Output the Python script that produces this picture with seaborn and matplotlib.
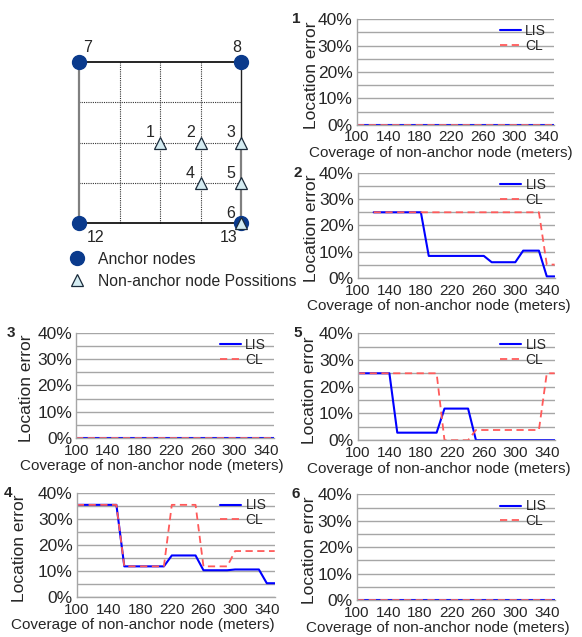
import numpy as np
import pandas as pd
import matplotlib
matplotlib.use("Agg")
import matplotlib.pyplot as plt
from matplotlib.lines import Line2D
from matplotlib.ticker import FuncFormatter, MultipleLocator
import seaborn as sns

sns.set_style("white")
plt.rcParams["font.family"] = ["Liberation Sans", "DejaVu Sans"]

# coverage of the non-anchor node (meters)
coverage = [100, 110, 120, 130, 140, 150, 160, 170, 180, 190, 200, 210, 220,
            230, 240, 250, 260, 270, 280, 290, 300, 310, 320, 330, 340, 350]
x_ticks = [100, 140, 180, 220, 260, 300, 340]
y_ticks = [0, 10, 20, 30, 40]

nan = np.nan
zeros = [0] * 26

lis_1 = zeros
cl_1 = zeros

lis_2 = [nan, nan, 25, 25, 25, 25, 25, 25, 25, 8.4, 8.4, 8.4, 8.4,
         8.4, 8.4, 8.4, 8.4, 6.0, 6.0, 6.0, 6.0, 10.4, 10.4, 10.4, 0.6, 0.6]
cl_2 = [nan, nan, 25, 25, 25, 25, 25, 25, 25, 25, 25, 25, 25,
        25, 25, 25, 25, 25, 25, 25, 25, 25, 25, 25, 5.1, 5.1]

lis_3 = zeros
cl_3 = zeros

lis_4 = [35.5, 35.5, 35.5, 35.5, 35.5, 35.5, 11.8, 11.8, 11.8, 11.8, 11.8, 11.8, 16.0,
         16.0, 16.0, 16.0, 10.3, 10.3, 10.3, 10.3, 10.6, 10.6, 10.6, 10.6, 5.3, 5.3]
cl_4 = [35.5, 35.5, 35.5, 35.5, 35.5, 35.5, 11.8, 11.8, 11.8, 11.8, 11.8, 11.8, 35.5,
        35.5, 35.5, 35.5, 11.8, 11.8, 11.8, 11.8, 17.7, 17.7, 17.7, 17.7, 17.7, 17.7]

lis_5 = [25, 25, 25, 25, 25, 2.8, 2.8, 2.8, 2.8, 2.8, 2.8, 11.8, 11.8,
         11.8, 11.8, 0, 0, 0, 0, 0, 0, 0, 0, 0, 0, 0]
cl_5 = [25, 25, 25, 25, 25, 25, 25, 25, 25, 25, 25, 0, 0,
        0, 0, 3.8, 3.8, 3.8, 3.8, 3.8, 3.8, 3.8, 3.8, 3.8, 25, 25]

lis_6 = zeros
cl_6 = zeros

# diagram: grid units, anchors at the corners
anchor_x = [0, 4, 0, 4]
anchor_y = [4, 4, 0, 0]
anchor_ids = ["7", "8", "12", "13"]
node_x = [2, 3, 4, 3, 4, 4]
node_y = [2, 2, 2, 1, 1, 0]
node_ids = ["1", "2", "3", "4", "5", "6"]

BLUE = "#0000ff"
RED = "#ff5a5a"
GRID = "#a6a6a6"
NAVY = "#0a3a8c"

fig = plt.figure(figsize=(5.82, 6.37), dpi=100)

# ---- diagram ----
ax0 = fig.add_axes([0.101, 0.5425, 0.348, 0.3917])
ax0.set_xlim(-0.5, 4.5)
ax0.set_ylim(-1.7, 4.5)
ax0.axis("off")
for g in [1, 2, 3]:
    ax0.plot([g, g], [0, 4], color="#333333", lw=0.8, ls=(0, (1, 1)))
    ax0.plot([0, 4], [g, g], color="#333333", lw=0.8, ls=(0, (1, 1)))
ax0.plot([0, 4], [4, 4], color="black", lw=1.2)
ax0.plot([0, 4], [0, 0], color="black", lw=1.2)
ax0.plot([0, 0], [0, 4], color="#808080", lw=1.6)
ax0.plot([4, 4], [2, 4], color="#222222", lw=1.0)
ax0.plot([4, 4], [0, 2], color="#808080", lw=1.6)
ax0.plot(anchor_x, anchor_y, "o", ms=10, color=NAVY, ls="none", zorder=4)
ax0.plot(node_x, node_y, "^", ms=9, mfc="#d4ecf2", mec="#1a2a3a", mew=0.9,
         ls="none", zorder=5)
anchor_off = [(0.2, 0.37), (-0.1, 0.35), (0.4, -0.35), (-0.3, -0.35)]
for ax_, ay_, lab, off in zip(anchor_x, anchor_y, anchor_ids, anchor_off):
    ax0.text(ax_ + off[0], ay_ + off[1], lab, fontsize=11.5, ha="center", va="center")
for nx_, ny_, lab in zip(node_x, node_y, node_ids):
    ax0.text(nx_ - 0.25, ny_ + 0.24, lab, fontsize=11.5, ha="center", va="center")
handles = [Line2D([], [], marker="o", ms=10, color=NAVY, ls="none"),
           Line2D([], [], marker="^", ms=9, mfc="#d4ecf2", mec="#1a2a3a", mew=0.9, ls="none")]
ax0.legend(handles, ["Anchor nodes", "Non-anchor node Possitions"], loc="upper left",
           bbox_to_anchor=(-0.02, 0.185), frameon=False, fontsize=11.3,
           handletextpad=0.35, labelspacing=0.45, borderaxespad=0.0)

# ---- line charts ----
# name, LIS, CL, axes rect, xlabel x, ylabel x, panel number x (axes fraction)
panels = [
    ("1", lis_1, cl_1, [0.613, 0.804, 0.339, 0.166], 0.425, -0.19, -0.33),
    ("2", lis_2, cl_2, [0.615, 0.5636, 0.338, 0.165], 0.41, -0.20, -0.33),
    ("3", lis_3, cl_3, [0.131, 0.3124, 0.340, 0.165], 0.38, -0.215, -0.35),
    ("4", lis_4, cl_4, [0.132, 0.0628, 0.340, 0.163], 0.335, -0.25, -0.37),
    ("5", lis_5, cl_5, [0.615, 0.309, 0.338, 0.168], 0.41, -0.21, -0.33),
    ("6", lis_6, cl_6, [0.613, 0.058, 0.340, 0.166], 0.41, -0.20, -0.33),
]

for name, lis, cl, rect, xl_x, yl_x, num_x in panels:
    ax = fig.add_axes(rect)
    df = pd.DataFrame({"coverage": coverage, "LIS": lis, "CL": cl})
    sns.lineplot(data=df, x="coverage", y="LIS", color=BLUE, lw=1.5, ax=ax, label="LIS")
    sns.lineplot(data=df, x="coverage", y="CL", color=RED, lw=1.3, ax=ax, label="CL",
                 dashes=False, linestyle=(0, (4, 2.5)))
    ax.set_xlim(100, 350)
    ax.set_ylim(0, 40)
    ax.set_xticks(x_ticks)
    ax.xaxis.set_minor_locator(MultipleLocator(10))
    ax.set_yticks(y_ticks)
    ax.yaxis.set_minor_locator(MultipleLocator(5))
    ax.yaxis.set_major_formatter(FuncFormatter(lambda v, p: "%d%%" % v))
    ax.grid(True, which="both", axis="y", color=GRID, lw=1.0)
    ax.set_axisbelow(True)
    for s in ["top", "right"]:
        ax.spines[s].set_visible(False)
    for s in ["left", "bottom"]:
        ax.spines[s].set_color(GRID)
        ax.spines[s].set_linewidth(1.0)
    ax.tick_params(axis="both", which="both", direction="out", color=GRID,
                   length=3, width=0.8)
    ax.tick_params(axis="x", labelsize=11, pad=1)
    ax.tick_params(axis="y", labelsize=12.5, pad=0)
    ax.set_xlabel("Coverage of non-anchor node (meters)", fontsize=11)
    ax.set_ylabel("Location error", fontsize=12.5)
    ax.xaxis.set_label_coords(xl_x, -0.20)
    ax.yaxis.set_label_coords(yl_x, 0.47)
    ax.legend(loc="upper right", frameon=False, fontsize=10, handlelength=1.5,
              handletextpad=0.3, labelspacing=0.05, borderaxespad=0.2,
              bbox_to_anchor=(1.0, 1.03))
    ax.text(num_x, 1.0, name, transform=ax.transAxes, fontsize=11,
            fontweight="bold", ha="left", va="center")

fig.savefig("out.png", dpi=100)
